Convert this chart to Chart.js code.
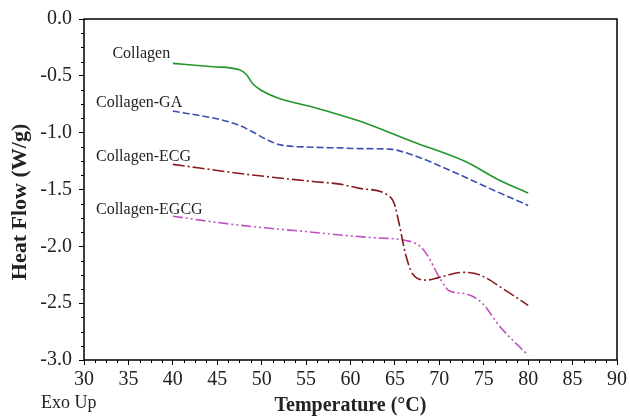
<!DOCTYPE html>
<html>
<head>
<meta charset="utf-8">
<script src="https://cdn.jsdelivr.net/npm/chart.js@4"></script>
<style>
  body { margin: 0; background: #fff; }
  #wrap { width: 630px; height: 419px; }
</style>
</head>
<body>
<div id="wrap"><canvas id="dsc"></canvas></div>
<script>
  // DSC curves, temperature in degC, heat flow in W/g
  const seriesNames = ['Collagen', 'Collagen-GA', 'Collagen-ECG', 'Collagen-EGCG'];

  const collagenT  = [40, 44.5, 47.5, 48.3, 49.0, 49.8, 52, 55.8, 61, 67, 73, 76.7, 80];
  const collagenHF = [-0.39, -0.42, -0.447, -0.49, -0.57, -0.62, -0.70, -0.776, -0.898, -1.08, -1.256, -1.416, -1.53];

  const gaT  = [40, 45.3, 47.5, 49, 50.5, 52, 55.8, 58.8, 61, 64.4, 67, 71.1, 75.6, 80];
  const gaHF = [-0.81, -0.884, -0.936, -0.994, -1.058, -1.105, -1.128, -1.134, -1.14, -1.145, -1.197, -1.328, -1.488, -1.64];

  const ecgT  = [40, 48.3, 55.8, 58.8, 61, 64, 64.9, 65.5, 66.2, 67, 68.5, 70, 72.6, 74.5, 77.5, 80];
  const ecgHF = [-1.279, -1.366, -1.43, -1.453, -1.49, -1.54, -1.62, -1.81, -2.07, -2.244, -2.297, -2.273, -2.229, -2.25, -2.39, -2.52];

  const egcgT  = [40, 45.3, 50, 55, 58.8, 62.5, 66.2, 67.8, 68.7, 70, 71.1, 73, 74.9, 76.7, 80];
  const egcgHF = [-1.735, -1.793, -1.835, -1.87, -1.90, -1.924, -1.948, -1.997, -2.084, -2.273, -2.39, -2.418, -2.505, -2.695, -2.96];

  const xTicks = [30, 35, 40, 45, 50, 55, 60, 65, 70, 75, 80, 85, 90];
  const yTicks = [0, -0.5, -1.0, -1.5, -2.0, -2.5, -3.0];

  const serif = "'Liberation Serif', 'Times New Roman', serif";

  function pts(xs, ys) {
    return xs.map((x, i) => ({ x: x, y: ys[i] }));
  }

  // where the curve names sit (data coords, left edge / middle)
  const nameAnchors = [[33.2, -0.31], [31.35, -0.74], [31.35, -1.21], [31.35, -1.675]];

  const decor = {
    id: 'decor',
    afterDraw(chart) {
      const c = chart.ctx;
      const a = chart.chartArea;
      const xs = chart.scales.x, ys = chart.scales.y;
      c.save();
      // frame
      c.strokeStyle = '#000';
      c.lineWidth = 1.5;
      c.strokeRect(a.left, a.top, a.right - a.left, a.bottom - a.top);
      // minor ticks
      c.lineWidth = 1;
      c.beginPath();
      for (let v = 30; v <= 90; v += 1.25) {
        if (Math.abs(v % 5) < 1e-6) continue;
        const px = Math.round(xs.getPixelForValue(v)) + 0.5;
        c.moveTo(px, a.bottom);
        c.lineTo(px, a.bottom + 3);
      }
      for (let v = 0; v >= -3; v -= 0.125) {
        if (Math.abs((v * 2) % 1) < 1e-6) continue;
        const py = Math.round(ys.getPixelForValue(v)) + 0.5;
        c.moveTo(a.left, py);
        c.lineTo(a.left - 3, py);
      }
      c.stroke();
      // curve names
      c.fillStyle = '#222';
      c.font = '16px ' + serif;
      c.textAlign = 'left';
      c.textBaseline = 'middle';
      seriesNames.forEach((n, i) => {
        c.fillText(n, xs.getPixelForValue(nameAnchors[i][0]), ys.getPixelForValue(nameAnchors[i][1]));
      });
      c.font = '18px ' + serif;
      c.fillText('Exo Up', 41, 403);
      // y axis title, sits a bit below the plot centre in the original
      c.translate(20, 202);
      c.rotate(-Math.PI / 2);
      c.textAlign = 'center';
      c.font = 'bold 22px ' + serif;
      c.fillText('Heat Flow (W/g)', 0, 0);
      c.restore();
    }
  };

  const ctx = document.getElementById('dsc');

  new Chart(ctx, {
    type: 'line',
    data: {
      datasets: [{
        label: seriesNames[0],
        data: pts(collagenT, collagenHF),
        borderColor: '#23962b',
        borderWidth: 1.6
      }, {
        label: seriesNames[1],
        data: pts(gaT, gaHF),
        borderColor: '#3a4fb2',
        borderWidth: 1.6,
        borderDash: [7, 3]
      }, {
        label: seriesNames[2],
        data: pts(ecgT, ecgHF),
        borderColor: '#8a1a1a',
        borderWidth: 1.6,
        borderDash: [12, 3, 2, 3]
      }, {
        label: seriesNames[3],
        data: pts(egcgT, egcgHF),
        borderColor: '#c24fc2',
        borderWidth: 1.6,
        borderDash: [10, 3, 2, 3, 2, 3]
      }]
    },
    options: {
      responsive: true,
      maintainAspectRatio: false,
      animation: false,
      layout: { padding: { top: 16, right: 12, left: 0, bottom: 0 } },
      elements: {
        point: { radius: 0 },
        line: { cubicInterpolationMode: 'monotone', fill: false }
      },
      plugins: {
        legend: { display: false },
        tooltip: { enabled: false }
      },
      scales: {
        x: {
          type: 'linear',
          min: 30,
          max: 90,
          afterBuildTicks: s => { s.ticks = xTicks.map(v => ({ value: v })); },
          afterFit: s => { s.height = 59; },
          grid: { drawOnChartArea: false, tickLength: 5, tickColor: '#000' },
          border: { display: false },
          ticks: {
            color: '#222',
            padding: 3,
            maxRotation: 0,
            font: { family: serif, size: 20 }
          },
          title: {
            display: true,
            text: 'Temperature (°C)',
            color: '#222',
            padding: { top: 0, bottom: 1 },
            font: { family: serif, size: 20, weight: 'bold' }
          }
        },
        y: {
          min: -3,
          max: 0,
          afterBuildTicks: s => { s.ticks = yTicks.map(v => ({ value: v })); },
          afterFit: s => { s.width = 84; },
          grid: { drawOnChartArea: false, tickLength: 5, tickColor: '#000' },
          border: { display: false },
          ticks: {
            color: '#222',
            padding: 7,
            callback: v => v.toFixed(1),
            font: { family: serif, size: 20 }
          },
          title: { display: false }
        }
      }
    },
    plugins: [decor]
  });
</script>
</body>
</html>
